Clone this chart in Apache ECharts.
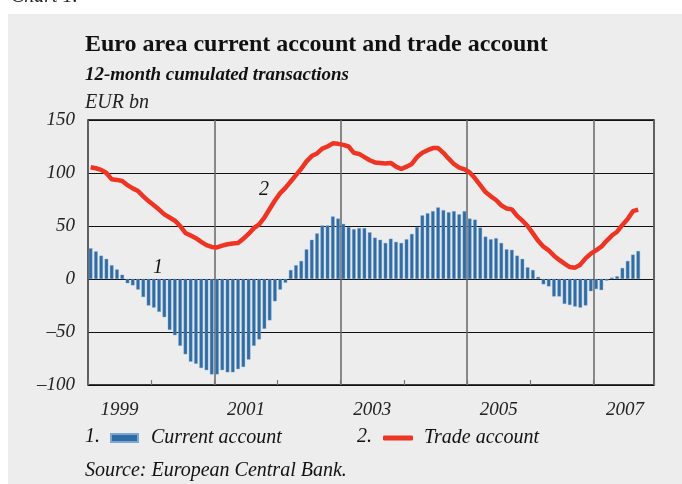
<!DOCTYPE html>
<html>
<head>
<meta charset="utf-8">
<script src="https://cdn.jsdelivr.net/npm/echarts@6/dist/echarts.min.js"></script>
<style>
  html, body { margin: 0; padding: 0; background: #fff; }
  #chart { width: 682px; height: 484px; }
</style>
</head>
<body>
<div id="chart"></div>
<script>
// months from Jan 1999 (index 0) to Sep 2007 (index 104)
const yearLabels = ['1999', '2001', '2003', '2005', '2007'];
const yTicks = [-100, -50, 0, 50, 100, 150];

const currentAccount = [
  29, 26, 22, 19, 13, 9, 4, -4, -6, -10, -17, -25,
  -27, -31, -36, -48, -53, -63, -71, -78, -80, -84, -86, -90,
  -90, -86, -88, -88, -85, -83, -76, -63, -57, -47, -39, -21,
  -10, -3.5, 8.5, 13, 17, 28, 37, 43, 50.5, 50.5, 59, 57,
  52, 49, 47, 48, 48, 44, 39, 37, 34, 38, 35, 34,
  37.5, 42.5, 49, 60, 62, 64, 67.5, 65, 63, 64, 61, 64,
  57, 56, 48.5, 40, 37.5, 38.5, 34, 28, 27.5, 22, 19, 11,
  8.5, 2, -5, -7, -16.5, -16.5, -23.5, -24.5, -26, -27, -25, -11.5,
  -9.5, -10.5, -1.5, 1.3, 2.6, 10.4, 17, 23, 26.4
];

const tradeAccount = [
  105.5, 104.5, 103, 100, 94, 93.5, 92.5, 88.5, 85.5, 83, 78, 73.5,
  69.5, 65.5, 61, 58, 55, 50, 43.5, 41, 38.5, 35, 32, 30.2,
  29.8, 31.5, 32.8, 33.5, 34, 38, 42.5, 48, 51.5, 58, 66, 74,
  81, 86, 92, 98, 104, 111, 116, 118.5, 123, 125, 128, 127.5,
  126.5, 125, 119, 118, 115, 112, 110, 109.5, 109, 109.5, 106, 103.8,
  106, 108.5, 115, 119, 121.5, 123.5, 123.5, 119, 113.5, 108.5, 105, 103.5,
  100.5, 95, 88.5, 82, 78, 74.5, 69.5, 66.5, 65.7, 59.5, 55, 50,
  43, 36, 30.5, 27, 22, 18, 14.5, 11.3, 10.7, 13.5, 19.5, 24,
  27, 30.5, 36, 41, 44.6, 51, 56.5, 64, 65.5
];

const serif = '"Liberation Serif", "DejaVu Serif", serif';
const xMax = 107.5;

const chart = echarts.init(document.getElementById('chart'));

const baseX = {
  type: 'value', min: 0, max: xMax, position: 'bottom', offset: 0,
  axisLabel: { show: false }, axisTick: { show: false },
  axisLine: { show: false }, splitLine: { show: false }
};

chart.setOption({
  animation: false,
  backgroundColor: '#fff',
  graphic: [
    { type: 'rect', z: -10, shape: { x: 8, y: 14, width: 674, height: 470 }, style: { fill: '#ededed' } },
    { type: 'text', left: 11, top: -13, style: { text: 'Chart 1.', font: 'italic 20px ' + serif, fill: '#222' } },
    { type: 'text', left: 85, top: 33, style: { text: 'Euro area current account and trade account', font: 'bold 24px ' + serif, fill: '#111' } },
    { type: 'text', left: 85, top: 66, style: { text: '12-month cumulated transactions', font: 'italic bold 19px ' + serif, fill: '#111' } },
    { type: 'text', left: 85, top: 93, style: { text: 'EUR bn', font: 'italic 20px ' + serif, fill: '#222' } },
    { type: 'text', left: 153, top: 258, style: { text: '1', font: 'italic 20px ' + serif, fill: '#111' } },
    { type: 'text', left: 259, top: 180, style: { text: '2', font: 'italic 20px ' + serif, fill: '#111' } },
    { type: 'text', left: 85, top: 427, style: { text: '1.', font: 'italic 20px ' + serif, fill: '#111' } },
    { type: 'text', left: 357, top: 427, style: { text: '2.', font: 'italic 20px ' + serif, fill: '#111' } },
    { type: 'text', left: 85, top: 461, style: { text: 'Source: European Central Bank.', font: 'italic 20px ' + serif, fill: '#111' } }
  ],
  legend: [
    {
      data: ['Current account'], left: 105, top: 423, icon: 'rect',
      itemWidth: 27, itemHeight: 8,
      textStyle: { fontFamily: serif, fontStyle: 'italic', fontSize: 20, color: '#111', padding: [0, 0, 0, 8] }
    },
    {
      data: ['Trade account'], left: 378, top: 423, icon: 'roundRect',
      itemWidth: 30, itemHeight: 5,
      textStyle: { fontFamily: serif, fontStyle: 'italic', fontSize: 20, color: '#111', padding: [0, 0, 0, 6] }
    }
  ],
  grid: {
    left: 88, right: 28, top: 120, bottom: 99,
    show: true, borderColor: '#000', borderWidth: 1.3, backgroundColor: 'transparent'
  },
  xAxis: [
    Object.assign({}, baseX, {
      interval: 24,
      splitLine: { show: true, lineStyle: { color: '#666', width: 1.5 } }
    }),
    Object.assign({}, baseX, {
      interval: 12,
      axisTick: { show: true, inside: true, length: 5, lineStyle: { color: '#777', width: 1.2 } }
    }),
    Object.assign({}, baseX, {
      interval: 6,
      axisLabel: {
        show: true, margin: 15,
        fontFamily: serif, fontStyle: 'italic', fontSize: 19, color: '#222',
        formatter: v => ((v - 6) % 24 === 0 ? yearLabels[(v - 6) / 24] : '')
      }
    })
  ],
  yAxis: {
    type: 'value', min: yTicks[0], max: yTicks[yTicks.length - 1], interval: 50,
    axisLine: { show: false }, axisTick: { show: false },
    axisLabel: {
      margin: 13, fontFamily: serif, fontStyle: 'italic', fontSize: 19, color: '#222',
      formatter: v => String(v).replace('-', '\u2013')
    },
    splitLine: { show: true, lineStyle: { color: '#111', width: 1.2 } }
  },
  series: [
    {
      name: 'Current account', type: 'bar', xAxisIndex: 0,
      barWidth: 3.6,
      itemStyle: { color: '#2f6ca6', borderColor: '#7fa6cf', borderWidth: 0.4 },
      data: currentAccount.map((v, i) => [i + 0.5, v])
    },
    {
      name: 'Trade account', type: 'line', xAxisIndex: 0,
      symbol: 'none', z: 5,
      lineStyle: { color: '#ee3524', width: 4.5 },
      itemStyle: { color: '#ee3524' },
      data: tradeAccount.map((v, i) => [i + 0.5, v])
    }
  ]
});
</script>
</body>
</html>
